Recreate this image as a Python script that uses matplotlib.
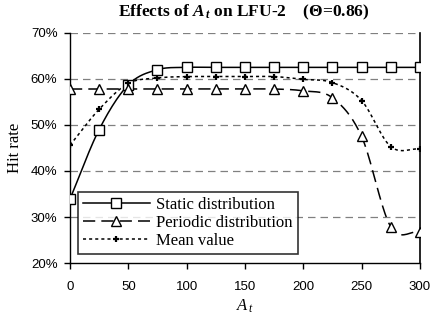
import numpy as np
import matplotlib
matplotlib.use("Agg")
import matplotlib.pyplot as plt
from matplotlib.ticker import FuncFormatter

a_t = [0, 25, 50, 75, 100, 125, 150, 175, 200, 225, 250, 275, 300]
static = [33.9, 49.0, 58.7, 62.0, 62.5, 62.5, 62.5, 62.5, 62.5, 62.5, 62.5, 62.5, 62.5]
periodic = [57.8, 57.8, 57.8, 57.8, 57.8, 57.8, 57.8, 57.8, 57.4, 55.9, 47.5, 27.9, 26.8]
mean_val = [45.6, 53.4, 59.0, 60.2, 60.5, 60.5, 60.5, 60.5, 59.9, 59.2, 55.3, 45.3, 44.8]

SERIF = "Liberation Serif"
SANS = "Liberation Sans"

plt.rcParams["mathtext.fontset"] = "custom"
plt.rcParams["mathtext.it"] = "Liberation Serif:italic"
plt.rcParams["mathtext.rm"] = "Liberation Serif"
plt.rcParams["mathtext.bf"] = "Liberation Serif:bold:italic"


def smooth(x, y, n=20):
    # Catmull-Rom style smoothing, like the spreadsheet "smoothed line" option
    x = np.asarray(x, float)
    y = np.asarray(y, float)
    px = np.concatenate([[2 * x[0] - x[1]], x, [2 * x[-1] - x[-2]]])
    py = np.concatenate([[2 * y[0] - y[1]], y, [2 * y[-1] - y[-2]]])
    xs, ys = [], []
    for i in range(1, len(px) - 2):
        t = np.linspace(0, 1, n, endpoint=False)
        for p, out in ((px, xs), (py, ys)):
            p0, p1, p2, p3 = p[i - 1], p[i], p[i + 1], p[i + 2]
            out.extend(0.5 * (2 * p1 + (-p0 + p2) * t
                              + (2 * p0 - 5 * p1 + 4 * p2 - p3) * t ** 2
                              + (-p0 + 3 * p1 - 3 * p2 + p3) * t ** 3))
    xs.append(x[-1])
    ys.append(y[-1])
    return np.array(xs), np.array(ys)


fig = plt.figure(figsize=(4.32, 3.22), dpi=100)
ax = fig.add_axes([0.162, 0.183, 0.81, 0.715])

for v in [30, 40, 50, 60, 70]:
    ax.axhline(v, color="#808080", linestyle=(0, (6, 4)), linewidth=0.9, zorder=1)

series = [
    (static, "Static distribution", "-", "s", 7, 1.0),
    (periodic, "Periodic distribution", (0, (8, 4)), "^", 7, 1.0),
    (mean_val, "Mean value", (0, (2, 2)), "+", 5, 1.6),
]
handles = []
for ys, label, ls, mk, ms, mew in series:
    sx, sy = smooth(a_t, ys)
    ax.plot(sx, sy, color="black", linestyle=ls, linewidth=1.1, zorder=2)
    ax.plot(a_t, ys, linestyle="none", marker=mk, markersize=ms,
            markerfacecolor="white" if mk != "+" else "black",
            markeredgecolor="black", markeredgewidth=mew, zorder=3)
    h, = ax.plot([], [], color="black", linestyle=ls, linewidth=1.1, marker=mk,
                 markersize=ms, markerfacecolor="white", markeredgecolor="black",
                 markeredgewidth=mew)
    handles.append((h, label))

ax.set_xlim(0, 300)
ax.set_ylim(20, 70)
ax.set_xticks(range(0, 301, 50))
ax.set_yticks(range(20, 71, 10))
ax.yaxis.set_major_formatter(FuncFormatter(lambda v, p: f"{v:.0f}%"))
ax.tick_params(direction="out", length=4, width=1, labelsize=9.5)
ax.tick_params(axis="x", pad=9)
ax.tick_params(axis="y", pad=5)
for lab in ax.get_xticklabels() + ax.get_yticklabels():
    lab.set_fontfamily(SANS)
ax.spines["top"].set_visible(False)
for s in ["left", "right", "bottom"]:
    ax.spines[s].set_linewidth(1.0)
ax.spines["right"].set_linewidth(1.2)

ax.set_ylabel("Hit rate", fontfamily=SERIF, fontsize=12, labelpad=6)
ax.set_xlabel(r"$A_{\,t}$", fontsize=12, labelpad=3)

leg = ax.legend([h for h, _ in handles], [l for _, l in handles],
                loc="lower left", bbox_to_anchor=(0.023, 0.04),
                prop={"family": SERIF, "size": 12}, frameon=True, fancybox=False,
                handlelength=4.0, borderpad=0.3, labelspacing=0.12,
                handletextpad=0.4, borderaxespad=0)
leg.get_frame().set_edgecolor("black")
leg.get_frame().set_linewidth(1.2)

title = r"Effects of $\mathbf{A_{\,t}}$ on LFU-2    (" + "\u0398=0.86)"
fig.text(0.565, 0.96, title, ha="center", va="center", fontfamily=SERIF,
         fontweight="bold", fontsize=12.5)

fig.savefig("out.png", dpi=100)
